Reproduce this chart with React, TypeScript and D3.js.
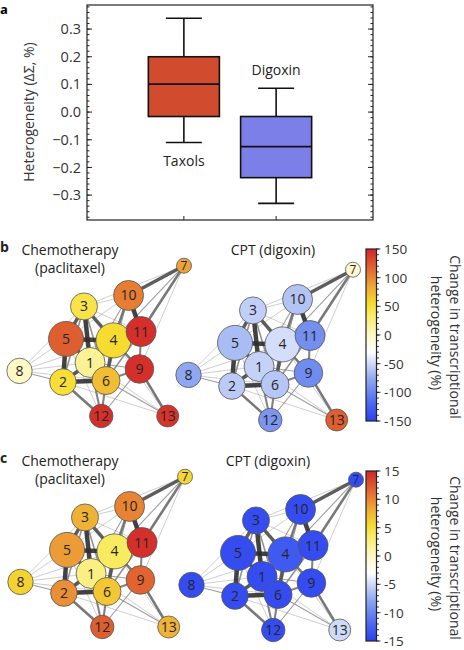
import React from "react";
import * as d3 from "d3";

// ---------- Panel a: box plot data ----------
const categories = ["Taxols", "Digoxin"];
const whiskerLow = [-0.11, -0.33];
const q1 = [-0.016, -0.237];
const median = [0.101, -0.125];
const q3 = [0.2, -0.016];
const whiskerHigh = [0.339, 0.086];
const boxColors = ["#d14c2f", "#7b7fe7"];
const yTicks = [-0.3, -0.2, -0.1, 0.0, 0.1, 0.2, 0.3];

// ---------- Networks ----------
const nodeIds = [1, 2, 3, 4, 5, 6, 7, 8, 9, 10, 11, 12, 13];
const layoutX = [0.429, 0.264, 0.392, 0.571, 0.283, 0.526, 1.0, 0.0, 0.729, 0.663, 0.739, 0.497, 0.901];
const layoutY = [0.644, 0.774, 0.271, 0.497, 0.487, 0.764, 0.0, 0.7, 0.687, 0.198, 0.438, 1.0, 1.0];
const nodeSize = [15, 13.3, 13.5, 17.5, 17.5, 14, 7.5, 12.7, 14.3, 15, 15, 11.7, 11];

// [source, target, weight]
const edges: [number, number, number][] = [
  [7, 10, 4], [7, 11, 3], [7, 4, 1.5], [7, 9, 1], [7, 3, 1],
  [10, 11, 5], [10, 4, 3], [10, 3, 1], [10, 1, 1.5], [10, 6, 1.5], [10, 5, 1],
  [3, 5, 4], [3, 4, 4], [3, 1, 5], [3, 11, 1], [3, 6, 2], [3, 2, 2],
  [5, 4, 5], [5, 1, 4], [5, 2, 5], [5, 6, 2],
  [4, 1, 4], [4, 6, 4], [4, 11, 3], [4, 9, 3], [4, 2, 2],
  [11, 9, 2.5], [11, 6, 2], [11, 1, 1.5],
  [1, 2, 4], [1, 6, 4], [1, 9, 1.5],
  [2, 6, 5], [6, 9, 2.5],
  [8, 5, 1], [8, 1, 1], [8, 2, 1.5], [8, 6, 1], [8, 4, 1], [8, 3, 1],
  [12, 2, 3], [12, 1, 2.5], [12, 6, 2.5], [12, 5, 1], [12, 9, 1.5], [12, 4, 1],
  [13, 9, 3], [13, 6, 1.5], [13, 4, 1], [13, 1, 1], [13, 2, 1],
];

// change in transcriptional heterogeneity (%) per node
const chemoB = [18, 51, 45, 54, 120, 72, 87, 0, 145, 105, 145, 145, 142];
const cptB = [-54, -58, -56, -48, -66, -60, -5, -78, -96, -62, -94, -90, 120];
const chemoC = [2.4, 9.6, 7.8, 3.6, 9, 6.6, 5.7, 6, 11.7, 10.2, 14.5, 12, 7.8];
const cptC = [-14, -14, -14, -13, -14, -14, -14, -14, -14, -14, -14, -14, -5];

const colorbarTicksB = [150, 100, 50, 0, -50, -100, -150];
const colorbarTicksC = [15, 10, 5, 0, -5, -10, -15];

const cmapPos = [0, 0.1, 0.25, 0.4, 0.52, 0.62, 0.68, 0.78, 0.88, 1];
const cmapColors = ["#2a3ef0", "#4a68f0", "#93abf0", "#ffffff", "#fdf6b8", "#f9eb60", "#f6dc30", "#eea838", "#e26a30", "#d2252a"];

const FONT = "'Open Sans', 'DejaVu Sans', sans-serif";

const cmap = d3.scaleLinear<string>().domain(cmapPos).range(cmapColors).interpolate(d3.interpolateRgb).clamp(true);

function BoxPanel() {
  const y = d3.scaleLinear().domain([-0.39, 0.387]).range([220, 5]);
  const x = d3.scalePoint<string>().domain(categories).range([87, 373]).padding(1.05);
  const step = x.step();
  const boxW = step * 0.77;
  const capW = step * 0.39;
  const major = d3.range(-0.3, 0.31, 0.1);
  const minor = d3.range(-0.38, 0.381, 0.02);
  return (
    <g>
      <text x={0} y={14} fontFamily={FONT} fontWeight="bold" fontSize={13}>a</text>
      {categories.map((c, i) => {
        const cx = x(c)!;
        return (
          <g key={c} stroke="#111" strokeWidth={1.6} fill="none">
            <line x1={cx} x2={cx} y1={y(whiskerHigh[i])} y2={y(q3[i])} />
            <line x1={cx} x2={cx} y1={y(q1[i])} y2={y(whiskerLow[i])} />
            <line x1={cx - capW / 2} x2={cx + capW / 2} y1={y(whiskerHigh[i])} y2={y(whiskerHigh[i])} />
            <line x1={cx - capW / 2} x2={cx + capW / 2} y1={y(whiskerLow[i])} y2={y(whiskerLow[i])} />
            <rect x={cx - boxW / 2} y={y(q3[i])} width={boxW} height={y(q1[i]) - y(q3[i])} fill={boxColors[i]} />
            <line x1={cx - boxW / 2} x2={cx + boxW / 2} y1={y(median[i])} y2={y(median[i])} />
          </g>
        );
      })}
      <text x={x("Taxols")} y={y(-0.195)} textAnchor="middle" fontFamily={FONT} fontSize={14} fill="#222">Taxols</text>
      <text x={x("Digoxin")} y={y(0.134)} textAnchor="middle" fontFamily={FONT} fontSize={14} fill="#222">Digoxin</text>
      <rect x={87} y={5} width={286} height={215} fill="none" stroke="#222" strokeWidth={1.2} />
      <g stroke="#222" strokeWidth={1}>
        {minor.map((v) => (
          <g key={"m" + v}>
            <line x1={87} x2={89.5} y1={y(v)} y2={y(v)} />
            <line x1={373} x2={370.5} y1={y(v)} y2={y(v)} />
          </g>
        ))}
        {major.map((v) => (
          <g key={"M" + v}>
            <line x1={87} x2={92} y1={y(v)} y2={y(v)} />
            <line x1={373} x2={368} y1={y(v)} y2={y(v)} />
          </g>
        ))}
        {categories.map((c) => (
          <line key={"t" + c} x1={x(c)} x2={x(c)} y1={220} y2={216} />
        ))}
      </g>
      {yTicks.map((v) => (
        <text key={v} x={81} y={y(v)} dy="0.35em" textAnchor="end" fontFamily={FONT} fontSize={14.5} fill="#333">
          {d3.format(".1f")(v)}
        </text>
      ))}
      <text transform={`translate(29,${y(0)}) rotate(-90)`} textAnchor="middle" dy="0.35em" fontFamily={FONT} fontSize={14} fill="#333">
        Heterogeneity (ΔΣ, %)
      </text>
    </g>
  );
}

function Network({ x0, y0, values, vmax }: { x0: number; y0: number; values: number[]; vmax: number }) {
  const sx = d3.scaleLinear().domain([0, 1]).range([x0, x0 + 164.5]);
  const sy = d3.scaleLinear().domain([0, 1]).range([y0, y0 + 150.3]);
  const r = d3.scaleLinear().domain([0, 1]).range([0, 1]);
  const t = d3.scaleLinear().domain([-vmax, vmax]).range([0, 1]);
  const ew = d3.scaleLinear().domain([1, 5]).range([0.6, 4.5]);
  const ec = d3.scaleLinear<string>().domain([1, 5]).range(["#a3a3a3", "#2e2e2e"]);
  const idx = (id: number) => nodeIds.indexOf(id);
  const sorted = [...edges].sort((a, b) => a[2] - b[2]);
  return (
    <g>
      {sorted.map(([s, tg, w], k) => (
        <line key={k} x1={sx(layoutX[idx(s)])} y1={sy(layoutY[idx(s)])} x2={sx(layoutX[idx(tg)])} y2={sy(layoutY[idx(tg)])}
          stroke={ec(w)} strokeWidth={ew(w)} strokeOpacity={0.9} />
      ))}
      {nodeIds.map((id, i) => (
        <g key={id}>
          <circle cx={sx(layoutX[i])} cy={sy(layoutY[i])} r={r(nodeSize[i])} fill={cmap(t(values[i]))} stroke="#555" strokeWidth={0.8} />
          <text x={sx(layoutX[i])} y={sy(layoutY[i])} dy="0.36em" textAnchor="middle" fontFamily={FONT}
            fontSize={id === 7 ? 12 : 14} fill="#262626">{id}</text>
        </g>
      ))}
    </g>
  );
}

function Colorbar({ id, y0, y1, ticks }: { id: string; y0: number; y1: number; ticks: number[] }) {
  const vmax = ticks[0];
  const s = d3.scaleLinear().domain([-vmax, vmax]).range([y1, y0]);
  const minor = d3.range(-vmax, vmax + 1e-9, (2 * vmax) / 30);
  const x0 = 366, x1 = 376.5;
  return (
    <g>
      <defs>
        <linearGradient id={id} x1="0" y1="1" x2="0" y2="0">
          {cmapPos.map((p, i) => (
            <stop key={i} offset={p} stopColor={cmapColors[i]} />
          ))}
        </linearGradient>
      </defs>
      <rect x={x0} y={y0} width={x1 - x0} height={y1 - y0} fill={`url(#${id})`} stroke="#222" strokeWidth={1.2} />
      <g stroke="#222" strokeWidth={0.9}>
        {minor.map((v, i) => (
          <line key={i} x1={x1} x2={x1 + 2.5} y1={s(v)} y2={s(v)} />
        ))}
        {ticks.map((v) => (
          <line key={"M" + v} x1={x1} x2={x1 + 4} y1={s(v)} y2={s(v)} />
        ))}
      </g>
      {ticks.map((v) => (
        <text key={v} x={384} y={s(v)} dy="0.36em" fontFamily={FONT} fontSize={13.5} fill="#333">{v}</text>
      ))}
      <text transform={`translate(455,${(y0 + y1) / 2 + 2}) rotate(90)`} textAnchor="middle" dy="0.35em" fontFamily={FONT} fontSize={14} fill="#333">
        Change in transcriptional
      </text>
      <text transform={`translate(436,${(y0 + y1) / 2 - 2}) rotate(90)`} textAnchor="middle" dy="0.35em" fontFamily={FONT} fontSize={14} fill="#333">
        heterogeneity (%)
      </text>
    </g>
  );
}

function Titles({ dy, letter, cptX }: { dy: number; letter: string; cptX: number }) {
  return (
    <g fontFamily={FONT} fontSize={14} fill="#222">
      <text x={0} y={252 + dy} fontWeight="bold">{letter}</text>
      <text x={70} y={255 + dy} textAnchor="middle">Chemotherapy</text>
      <text x={70} y={273 + dy} textAnchor="middle">(paclitaxel)</text>
      <text x={cptX} y={255 + dy} textAnchor="middle">CPT (digoxin)</text>
    </g>
  );
}

export default function App() {
  return (
    <svg width={464} height={650} style={{ position: "absolute", left: 0, top: 0, background: "#fff" }}>
      <rect width={464} height={650} fill="#fff" />
      <BoxPanel />
      <Titles dy={0} letter="b" cptX={273} />
      <Network x0={19.5} y0={265.7} values={chemoB} vmax={150} />
      <Network x0={188.5} y0={269.7} values={cptB} vmax={150} />
      <Colorbar id="cbB" y0={249} y1={421} ticks={colorbarTicksB} />
      <Titles dy={211} letter="c" cptX={268} />
      <Network x0={20.5} y0={476.7} values={chemoC} vmax={15} />
      <Network x0={191.5} y0={479.7} values={cptC} vmax={15} />
      <Colorbar id="cbC" y0={471} y1={641} ticks={colorbarTicksC} />
    </svg>
  );
}
